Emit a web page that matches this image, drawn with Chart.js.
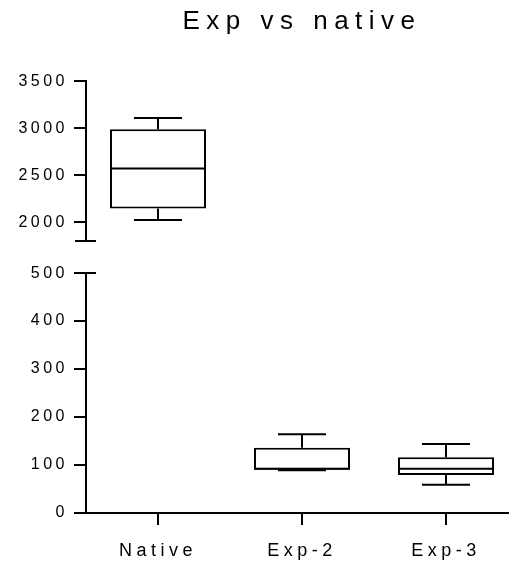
<!DOCTYPE html>
<html>
<head>
<meta charset="utf-8">
<script src="https://cdn.jsdelivr.net/npm/chart.js@4.4.1/dist/chart.umd.min.js"></script>
<style>
  html, body { margin: 0; padding: 0; background: #fff; overflow: hidden; }
  #wrap { width: 518px; height: 565px; position: relative; }
</style>
</head>
<body>
<div id="wrap"><canvas id="c"></canvas></div>
<script>
// ---- data ----
const categories = ['Native', 'Exp-2', 'Exp-3'];
const minVals    = [2025, 89, 59];
const q1Vals     = [2146, 90, 79];
const medianVals = [2571, 92, 92];
const q3Vals     = [2990, 136, 116];
const maxVals    = [3110, 164, 144];
const topRange    = [1800, 3500];
const bottomRange = [0, 500];
const topTicks    = [2000, 2500, 3000, 3500];
const bottomTicks = [0, 100, 200, 300, 400, 500];
const chartTitle  = 'Exp vs native';

const onTop = q1Vals.map(v => v > bottomRange[1]);
const FONT = "'Liberation Sans', Arial, sans-serif";

function wrapSpacing(chart, obj, method, spacing) {
  if (!obj || !obj[method]) return;
  const key = '_wrapped_' + method;
  if (obj[key]) return;
  const orig = obj[method].bind(obj);
  obj[method] = function (...a) {
    const ctx = chart.ctx;
    ctx.save();
    ctx.letterSpacing = spacing;
    orig(...a);
    ctx.restore();
  };
  obj[key] = true;
}

const boxPlugin = {
  id: 'boxWhiskers',
  afterLayout(chart) {
    wrapSpacing(chart, chart.titleBlock, 'draw', '6.5px');
    wrapSpacing(chart, chart.scales.x, 'drawLabels', '4.5px');
    wrapSpacing(chart, chart.scales.yTop, 'drawLabels', '3.5px');
    wrapSpacing(chart, chart.scales.yBottom, 'drawLabels', '3.5px');
  },
  afterDatasetsDraw(chart) {
    const ctx = chart.ctx;
    const xs = chart.scales.x;
    const boxW = xs.getPixelForValue(1) - xs.getPixelForValue(0);
    const capHalf = boxW * 0.667 / 4;
    ctx.save();
    ctx.strokeStyle = '#000';
    ctx.lineWidth = 2;
    ctx.lineCap = 'butt';
    categories.forEach((c, i) => {
      const ys = onTop[i] ? chart.scales.yTop : chart.scales.yBottom;
      const x = xs.getPixelForValue(i);
      const half = boxW * 0.667 / 2;
      const pMin = ys.getPixelForValue(minVals[i]);
      const pQ1 = ys.getPixelForValue(q1Vals[i]);
      const pMed = ys.getPixelForValue(medianVals[i]);
      const pQ3 = ys.getPixelForValue(q3Vals[i]);
      const pMax = ys.getPixelForValue(maxVals[i]);
      ctx.beginPath();
      ctx.moveTo(x, pQ3); ctx.lineTo(x, pMax);
      ctx.moveTo(x, pQ1); ctx.lineTo(x, pMin);
      ctx.moveTo(x - capHalf, pMax); ctx.lineTo(x + capHalf, pMax);
      ctx.moveTo(x - capHalf, pMin); ctx.lineTo(x + capHalf, pMin);
      ctx.moveTo(x - half, pMed); ctx.lineTo(x + half, pMed);
      ctx.stroke();
    });
    // axis break markers
    const yt = chart.scales.yTop, yb = chart.scales.yBottom;
    const ax = chart.chartArea.left;
    ctx.beginPath();
    const pb = Math.round(yt.getPixelForValue(topRange[0]));
    ctx.moveTo(ax - 11, pb); ctx.lineTo(ax + 10, pb);
    const pt = Math.round(yb.getPixelForValue(bottomRange[1]));
    ctx.moveTo(ax - 12, pt); ctx.lineTo(ax + 10, pt);
    ctx.stroke();
    ctx.restore();
  }
};

const topData = categories.map((c, i) => onTop[i] ? [q1Vals[i], q3Vals[i]] : null);
const bottomData = categories.map((c, i) => onTop[i] ? null : [q1Vals[i], q3Vals[i]]);

const barStyle = {
  backgroundColor: '#fff',
  borderColor: '#000',
  borderWidth: 2,
  borderSkipped: false,
  categoryPercentage: 1,
  barPercentage: 0.667,
  grouped: false
};

const yCommon = {
  position: 'left',
  stack: 'yaxis',
  border: { display: true, color: '#000', width: 2 },
  grid: { drawOnChartArea: false, drawTicks: true, tickLength: 12, color: '#000', lineWidth: 2 },
  ticks: { color: '#000', font: { family: FONT, size: 16 }, padding: 6, callback: v => String(v) },
  afterFit: s => { s.width = 86; }
};

new Chart(document.getElementById('c'), {
  type: 'bar',
  data: {
    labels: categories,
    datasets: [
      Object.assign({ label: 'top', data: topData, yAxisID: 'yTop' }, barStyle),
      Object.assign({ label: 'bottom', data: bottomData, yAxisID: 'yBottom' }, barStyle)
    ]
  },
  options: {
    responsive: true,
    maintainAspectRatio: false,
    animation: false,
    layout: { padding: 0 },
    plugins: {
      legend: { display: false },
      tooltip: { enabled: false },
      title: {
        display: true,
        text: chartTitle,
        fullSize: false,
        color: '#000',
        font: { family: FONT, size: 26, weight: 'normal' },
        padding: { top: 6, bottom: 44 }
      }
    },
    scales: {
      yBottom: Object.assign({}, yCommon, {
        min: bottomRange[0], max: bottomRange[1],
        stackWeight: 240,
        afterBuildTicks: s => { s.ticks = bottomTicks.map(v => ({ value: v })); }
      }),
      yGap: {
        position: 'left',
        stack: 'yaxis',
        stackWeight: 32,
        min: 0, max: 1,
        border: { display: false },
        grid: { display: false },
        ticks: { display: false },
        afterFit: s => { s.width = 86; }
      },
      yTop: Object.assign({}, yCommon, {
        min: topRange[0], max: topRange[1],
        stackWeight: 160,
        afterBuildTicks: s => { s.ticks = topTicks.map(v => ({ value: v })); }
      }),
      x: {
        type: 'category',
        offset: true,
        border: { display: true, color: '#000', width: 2 },
        grid: { offset: false, drawOnChartArea: false, drawTicks: true, tickLength: 12, color: '#000', lineWidth: 2 },
        ticks: { color: '#000', font: { family: FONT, size: 18 }, padding: 15, maxRotation: 0 },
        afterFit: s => { s.height = 52; }
      }
    }
  },
  plugins: [boxPlugin]
});
</script>
</body>
</html>
